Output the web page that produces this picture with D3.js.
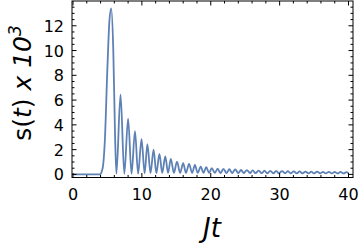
<!DOCTYPE html>
<html>
<head>
<meta charset="utf-8">
<script src="https://cdn.jsdelivr.net/npm/d3@7"></script>
<style>
  body { margin: 0; background: #fff; }
  svg { display: block; }
  .tick-label { font-family: "DejaVu Sans", sans-serif; font-size: 16px; fill: #000; }
</style>
</head>
<body>
<div id="chart"></div>
<script>
// values (s(t) x 10^3 against Jt)
const riseT = [0, 3.9, 4.3, 4.63, 5.0, 5.3];
const riseS = [0, 0, 0.5, 2.8, 8.7, 12.5];

const peakT = [5.55, 6.9, 8.0, 9.0, 9.95, 10.8, 11.7, 12.55, 13.4, 14.2,
    15.1, 16.0, 16.85, 17.7, 18.55, 19.35, 20.15, 21.0, 21.85, 22.7,
    23.55, 24.4, 25.25, 26.1, 26.95, 27.8, 28.65, 29.5, 30.35, 31.2,
    32.05, 32.9, 33.75, 34.6, 35.45, 36.3, 37.15, 38.0, 38.85, 39.7];
const peakS = [13.4, 6.45, 4.5, 3.5, 2.84, 2.45, 2.0, 1.65, 1.45, 1.25,
    1.03, 0.9, 0.85, 0.77, 0.63, 0.58, 0.5, 0.47, 0.44, 0.42,
    0.40, 0.37, 0.35, 0.33, 0.31, 0.30, 0.29, 0.28, 0.27, 0.26,
    0.25, 0.24, 0.23, 0.22, 0.22, 0.21, 0.21, 0.20, 0.20, 0.19];

const fallT = [5.85, 6.1];
const fallS = [10.0, 3.3];

const troughT = [6.3, 7.45, 8.5, 9.45, 10.4, 11.25, 12.1, 12.95, 13.8, 14.65,
    15.55, 16.4, 17.3, 18.1, 18.95, 19.75, 20.6, 21.4, 22.3, 23.1,
    24.0, 24.8, 25.7, 26.5, 27.4, 28.2, 29.1, 29.9, 30.8, 31.6,
    32.5, 33.3, 34.2, 35.0, 35.9, 36.7, 37.6, 38.4, 39.3, 40.0];
const troughS = [0.05, 0.05, 0.05, 0.06, 0.08, 0.1, 0.1, 0.12, 0.12, 0.12,
    0.12, 0.12, 0.12, 0.12, 0.12, 0.12, 0.12, 0.11, 0.11, 0.11,
    0.1, 0.1, 0.1, 0.1, 0.1, 0.09, 0.09, 0.09, 0.09, 0.09,
    0.08, 0.08, 0.08, 0.08, 0.08, 0.08, 0.08, 0.08, 0.08, 0.1];

const xTicks = [0, 10, 20, 30, 40];
const yTicks = [0, 2, 4, 6, 8, 10, 12];

const width = 360;
const height = 248;

const points = []
    .concat(riseT.map((t, i) => [t, riseS[i]]))
    .concat(peakT.map((t, i) => [t, peakS[i]]))
    .concat(fallT.map((t, i) => [t, fallS[i]]))
    .concat(troughT.map((t, i) => [t, troughS[i]]))
    .sort((a, b) => a[0] - b[0]);

const x = d3.scaleLinear().domain([0, 40]).range([73, 348.5]);
const y = d3.scaleLinear().domain([-0.25, 14]).range([177.5, 1]);

const frame = { left: 72, right: 353, top: 1, bottom: 177.5 };

const svg = d3.select('#chart')
    .append('svg')
    .attr('width', width)
    .attr('height', height);

// curve
const line = d3.line()
    .x((d) => x(d[0]))
    .y((d) => y(d[1]))
    .curve(d3.curveMonotoneX);

svg.append('path')
    .datum(points)
    .attr('d', line)
    .attr('fill', 'none')
    .attr('stroke', '#5E81B5')
    .attr('stroke-width', 1.8)
    .attr('stroke-linejoin', 'round');

// frame
svg.append('rect')
    .attr('x', frame.left)
    .attr('y', frame.top)
    .attr('width', frame.right - frame.left)
    .attr('height', frame.bottom - frame.top)
    .attr('fill', 'none')
    .attr('stroke', '#000')
    .attr('stroke-width', 1);

// ticks on all four sides, pointing inward
const xMinor = d3.range(0, 41, 2).filter((v) => v % 10 !== 0);
const yMinor = d3.range(0, 14.01, 0.5).filter((v) => v % 2 !== 0);

const tickG = svg.append('g').attr('stroke', '#000').attr('stroke-width', 1);

function xTick(v, len) {
    tickG.append('line')
        .attr('x1', x(v)).attr('x2', x(v))
        .attr('y1', frame.bottom).attr('y2', frame.bottom - len);
    tickG.append('line')
        .attr('x1', x(v)).attr('x2', x(v))
        .attr('y1', frame.top).attr('y2', frame.top + len);
}
function yTick(v, len) {
    tickG.append('line')
        .attr('x1', frame.left).attr('x2', frame.left + len)
        .attr('y1', y(v)).attr('y2', y(v));
    tickG.append('line')
        .attr('x1', frame.right).attr('x2', frame.right - len)
        .attr('y1', y(v)).attr('y2', y(v));
}
xTicks.forEach((v) => xTick(v, 4.5));
xMinor.forEach((v) => xTick(v, 2.5));
yTicks.forEach((v) => yTick(v, 4.5));
yMinor.forEach((v) => yTick(v, 2.5));

// tick labels
svg.selectAll('.xlab')
    .data(xTicks)
    .enter()
    .append('text')
    .attr('class', 'tick-label')
    .attr('text-anchor', 'middle')
    .attr('x', (d) => x(d))
    .attr('y', 200)
    .text((d) => d);

svg.selectAll('.ylab')
    .data(yTicks)
    .enter()
    .append('text')
    .attr('class', 'tick-label')
    .attr('text-anchor', 'end')
    .attr('x', 64)
    .attr('y', (d) => y(d) + 6)
    .text((d) => d);

// axis titles
svg.append('text')
    .attr('x', 212)
    .attr('y', 237)
    .attr('text-anchor', 'middle')
    .style('font-family', '"DejaVu Sans", sans-serif')
    .style('font-size', '26px')
    .style('font-style', 'italic')
    .text('Jt');

const ylab = svg.append('text')
    .attr('transform', 'translate(31,83) rotate(-90)')
    .attr('text-anchor', 'middle')
    .style('font-family', '"DejaVu Sans", sans-serif')
    .style('font-size', '25px');
ylab.append('tspan').text('s(');
ylab.append('tspan').style('font-style', 'italic').text('t');
ylab.append('tspan').text(') ');
ylab.append('tspan').style('font-style', 'italic').text('x 10');
ylab.append('tspan').attr('dy', -10).style('font-size', '17px').style('font-style', 'italic').text('3');
</script>
</body>
</html>
